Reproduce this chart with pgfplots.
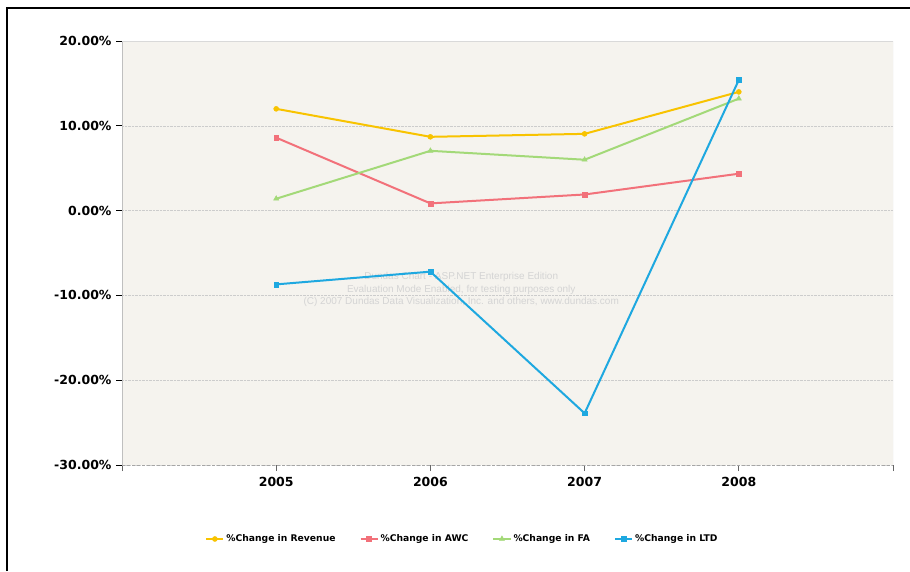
\documentclass[border=0pt]{standalone}
\usepackage{pgfplots}
\pgfplotsset{compat=1.18}
\usepackage{fontspec}
\setmainfont{DejaVu Sans}
\newfontfamily\wmfont{Liberation Sans}
\definecolor{cRev}{HTML}{F8C300}
\definecolor{cAWC}{HTML}{F2717A}
\definecolor{cFA}{HTML}{A3D978}
\definecolor{cLTD}{HTML}{1EA8E0}
\definecolor{bgplot}{HTML}{F5F3EE}
\begin{document}
\begin{tikzpicture}
\useasboundingbox (0,0) rectangle (910pt,571pt);
\fill[white] (0,0) rectangle (910pt,571pt);
\draw[line width=2pt] (7pt,0) -- (7pt,563pt) -- (910pt,563pt);
\begin{axis}[
  at={(122pt,106pt)}, anchor=south west,
  scale only axis, width=771pt, height=424pt,
  xmin=2004, xmax=2009, ymin=-30, ymax=20,
  axis lines*=left,
  axis line style={-},
  x axis line style={gray!70, densely dashed},
  y axis line style={gray!50},
  axis background/.style={fill=bgplot},
  xtick={2004,2005,2006,2007,2008,2009},
  xticklabels={,2005,2006,2007,2008,},
  ytick={-30,-20,-10,0,10,20},
  yticklabels={{-30.00\%},{-20.00\%},{-10.00\%},{0.00\%},{10.00\%},{20.00\%}},
  tick align=outside,
  major tick length=6pt,
  y tick style={black, line width=0.8pt},
  x tick style={gray!80!black, line width=0.8pt},
  tick label style={font=\fontsize{12.5}{14}\selectfont\bfseries},
  yticklabel style={xshift=-1pt},
  xticklabel style={yshift=-3pt},
  ymajorgrids,
  grid style={gray!40, densely dotted},
  legend style={at={(0.4416,-0.1745)}, anchor=center, draw=none, fill=none,
    legend columns=4, font=\fontsize{9.2}{11}\selectfont\bfseries,
    /tikz/every even column/.append style={column sep=22pt}},
  legend image code/.code={
    \draw[mark repeat=2,mark phase=2,#1] plot coordinates {(0cm,0cm) (0.3cm,0cm) (0.6cm,0cm)};},
  every axis plot/.append style={line width=2pt},
]
\draw[gray!30] (rel axis cs:0,1) -- (rel axis cs:1,1) -- (rel axis cs:1,0);
\node[text=black!17, align=center, font=\wmfont\fontsize{10}{12.5}\selectfont] at (axis cs:2006.2,-9.3)
  {Dundas Chart - ASP.NET Enterprise Edition\\Evaluation Mode Enabled, for testing purposes only\\(C) 2007 Dundas Data Visualization, Inc. and others, www.dundas.com};
\addplot[color=cRev, mark=*, mark size=2.5pt, mark options={line width=0.5pt}] coordinates {(2005,12.0) (2006,8.7) (2007,9.05) (2008,14.0)};
\addlegendentry{\%Change in Revenue}
\addplot[color=cAWC, mark=square*, mark size=2.4pt, mark options={line width=0.5pt}] coordinates {(2005,8.6) (2006,0.85) (2007,1.9) (2008,4.35)};
\addlegendentry{\%Change in AWC}
\addplot[color=cFA, mark=triangle*, mark size=3pt, mark options={line width=0.5pt}] coordinates {(2005,1.4) (2006,7.05) (2007,6.0) (2008,13.2)};
\addlegendentry{\%Change in FA}
\addplot[color=cLTD, mark=square*, mark size=2.4pt, mark options={line width=0.5pt}] coordinates {(2005,-8.7) (2006,-7.2) (2007,-23.9) (2008,15.4)};
\addlegendentry{\%Change in LTD}
\end{axis}
\end{tikzpicture}
\end{document}
